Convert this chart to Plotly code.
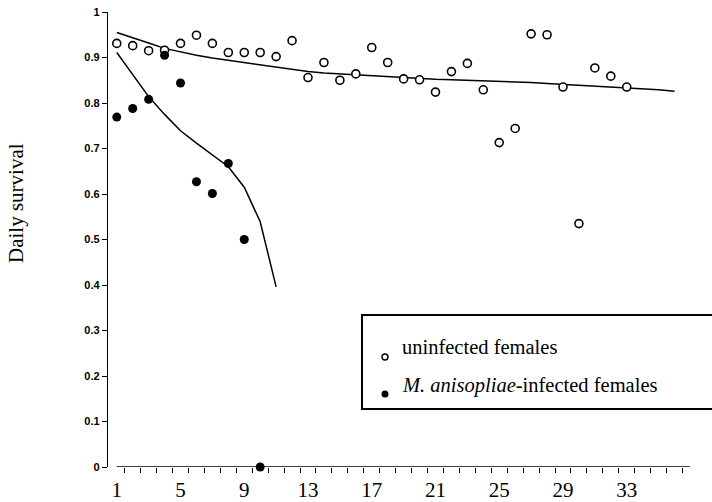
import plotly.graph_objects as go

# Daily survival of females by day of adulthood
days_uninfected = list(range(1, 34))
surv_uninfected = [0.931, 0.926, 0.915, 0.916, 0.931, 0.949, 0.931, 0.911, 0.911, 0.911,
                   0.902, 0.937, 0.856, 0.889, 0.850, 0.864, 0.922, 0.889, 0.853, 0.851,
                   0.824, 0.869, 0.887, 0.829, 0.713, 0.744, 0.952, 0.950, 0.835, 0.535,
                   0.877, 0.859, 0.835]

days_infected = list(range(1, 11))
surv_infected = [0.769, 0.788, 0.808, 0.905, 0.844, 0.627, 0.601, 0.667, 0.500, 0.0]

# Fitted survival curves
fit_days_uninfected = list(range(1, 37))
fit_uninfected = [0.955, 0.944, 0.932, 0.920, 0.912, 0.905, 0.899, 0.894, 0.888, 0.883,
                  0.878, 0.873, 0.869, 0.866, 0.864, 0.862, 0.860, 0.858, 0.855, 0.853,
                  0.852, 0.851, 0.850, 0.849, 0.847, 0.846, 0.845, 0.843, 0.841, 0.840,
                  0.838, 0.836, 0.834, 0.832, 0.829, 0.826]

fit_days_infected = list(range(1, 12))
fit_infected = [0.911, 0.862, 0.814, 0.775, 0.739, 0.712, 0.686, 0.660, 0.615, 0.539, 0.396]

x_tick_days = [1, 5, 9, 13, 17, 21, 25, 29, 33]
y_tick_vals = [0, 0.1, 0.2, 0.3, 0.4, 0.5, 0.6, 0.7, 0.8, 0.9, 1]
y_tick_text = ["0", "0.1", "0.2", "0.3", "0.4", "0.5", "0.6", "0.7", "0.8", "0.9", "1"]

legend_labels = ["uninfected females", "<i>M. anisopliae</i>-infected females"]

SERIF = "Liberation Serif, Times New Roman, serif"
SANS = "Liberation Sans, Arial, sans-serif"

fig = go.Figure()

fig.add_trace(go.Scatter(
    x=fit_days_uninfected, y=fit_uninfected, mode="lines",
    line=dict(color="black", width=1.5), showlegend=False, hoverinfo="skip"))
fig.add_trace(go.Scatter(
    x=fit_days_infected, y=fit_infected, mode="lines",
    line=dict(color="black", width=1.5), showlegend=False, hoverinfo="skip"))

fig.add_trace(go.Scatter(
    x=days_uninfected, y=surv_uninfected, mode="markers", name=legend_labels[0],
    marker=dict(symbol="circle", size=8, color="white", line=dict(color="black", width=1.6)),
    showlegend=False, cliponaxis=False))
fig.add_trace(go.Scatter(
    x=days_infected, y=surv_infected, mode="markers", name=legend_labels[1],
    marker=dict(symbol="circle", size=9, color="black", line=dict(color="black", width=0)),
    showlegend=False, cliponaxis=False))

x_lo, x_hi = 0.45, 36.97

fig.update_xaxes(
    range=[x_lo, x_hi], showline=False, showgrid=False, zeroline=False,
    automargin=False,
    tickmode="array", tickvals=x_tick_days, ticktext=[str(d) for d in x_tick_days],
    ticks="", ticklabelstandoff=8,
    tickfont=dict(family=SERIF, size=21, color="black"),
    minor=dict(tickmode="array", tickvals=[d + 0.5 for d in range(1, 37)],
               ticks="outside", ticklen=5, tickwidth=1.3, tickcolor="black", showgrid=False),
)
fig.update_yaxes(
    range=[0, 1], showline=True, linecolor="black", linewidth=1.3,
    showgrid=False, zeroline=False, automargin=False,
    tickmode="array", tickvals=y_tick_vals, ticktext=y_tick_text,
    ticks="outside", ticklen=5, tickwidth=1.3, tickcolor="black",
    tickfont=dict(family=SANS, size=11, color="black", weight="bold"),
)

# Horizontal axis line starting at the first day
fig.add_shape(type="line", xref="x", yref="y", x0=1, x1=x_hi, y0=0, y1=0,
              line=dict(color="black", width=1.5), layer="below")

# Legend box
fig.add_shape(type="rect", xref="paper", yref="paper", x0=0.4364, x1=1.06, y0=0.1275, y1=0.334,
              line=dict(color="black", width=2), fillcolor="white", layer="below")
fig.add_shape(type="circle", xref="paper", yref="paper", xsizemode="pixel", ysizemode="pixel",
              xanchor=(385 - 108) / 582, yanchor=(467 - 357) / 455,
              x0=-3, x1=3, y0=-3, y1=3, line=dict(color="black", width=1.4), fillcolor="white")
fig.add_shape(type="circle", xref="paper", yref="paper", xsizemode="pixel", ysizemode="pixel",
              xanchor=(385 - 108) / 582, yanchor=(467 - 394) / 455,
              x0=-3.5, x1=3.5, y0=-3.5, y1=3.5, line=dict(color="black", width=0), fillcolor="black")
fig.add_annotation(text=legend_labels[0], xref="paper", yref="paper",
                   x=(400 - 108) / 582, y=(467 - 347) / 455, xanchor="left", yanchor="middle",
                   showarrow=False, font=dict(family=SERIF, size=20.5, color="black"))
fig.add_annotation(text=legend_labels[1], xref="paper", yref="paper",
                   x=(400 - 108) / 582, y=(467 - 385) / 455, xanchor="left", yanchor="middle",
                   showarrow=False, font=dict(family=SERIF, size=20.5, color="black"))

# Vertical axis title
fig.add_annotation(text="Daily survival", xref="paper", yref="paper",
                   x=(16 - 108) / 582, y=(467 - 203) / 455, textangle=-90,
                   xanchor="center", yanchor="middle", showarrow=False,
                   font=dict(family=SERIF, size=21, color="black"))

fig.update_layout(
    width=712, height=502,
    margin=dict(l=108, r=22, t=12, b=35, autoexpand=False),
    plot_bgcolor="white", paper_bgcolor="white",
    showlegend=False,
)

fig.write_html("out.html")
